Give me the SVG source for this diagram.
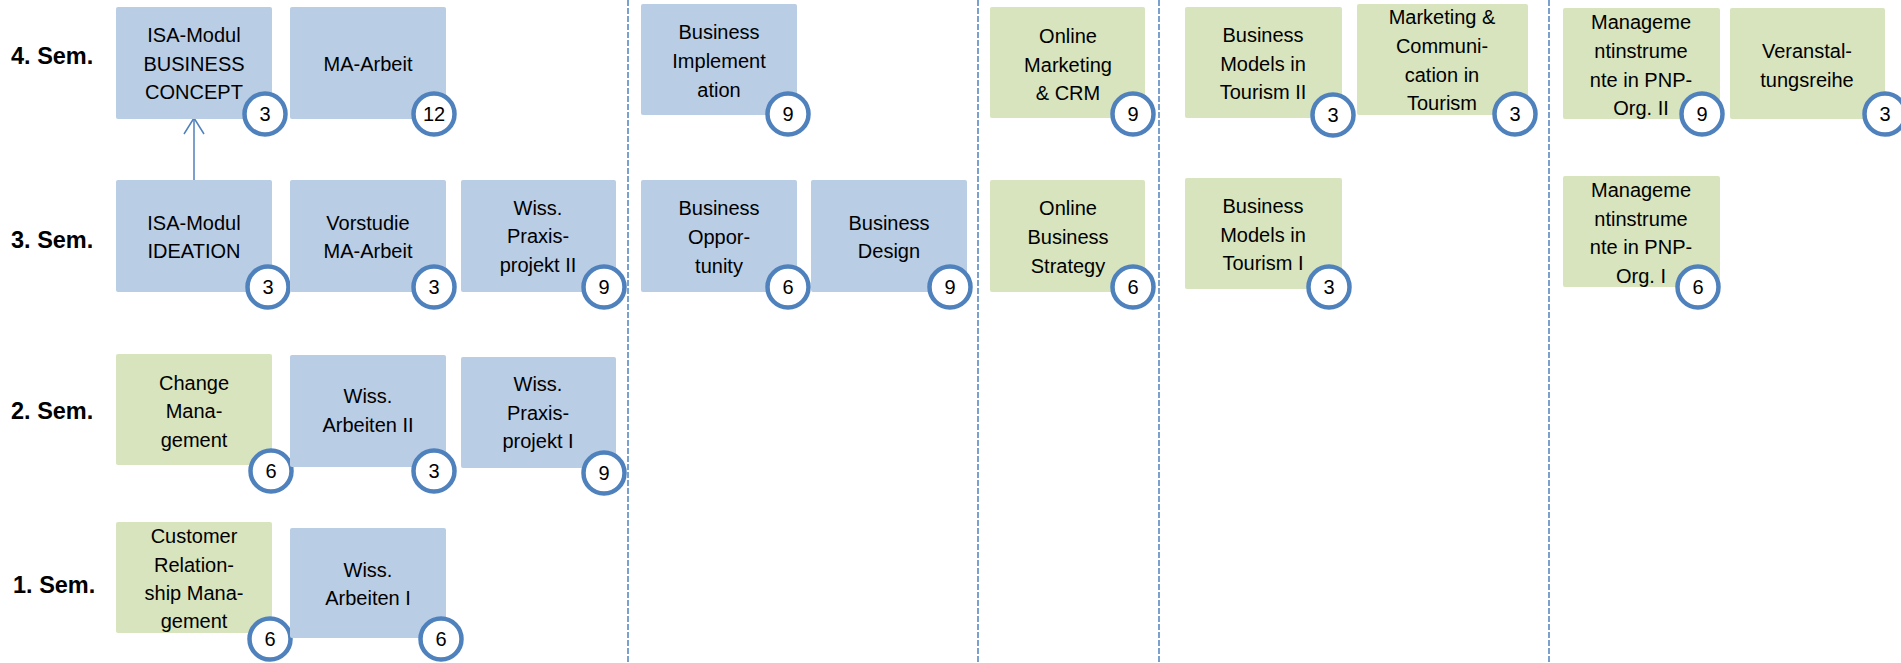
<svg xmlns="http://www.w3.org/2000/svg" width="1901" height="663" viewBox="0 0 1901 663">
<defs>
<style>
.bl{fill:#B9CDE5}
.gr{fill:#D7E4BD}
.t{font-family:"Liberation Sans",Arial,sans-serif;font-size:20px;fill:#000;text-anchor:middle}
.sem{font-family:"Liberation Sans",Arial,sans-serif;font-size:23.5px;font-weight:bold;fill:#000}
.c{fill:#fff;stroke:#4F81BD;stroke-width:4.5}
.n{font-family:"Liberation Sans",Arial,sans-serif;font-size:20px;fill:#000;text-anchor:middle}
.dash{stroke:#4F81BD;stroke-width:1.5;stroke-dasharray:6 2;fill:none}
.arr{stroke:#4F81BD;stroke-width:1.5;fill:none}
</style>
</defs>
<rect width="1901" height="663" fill="#fff"/>
<g id="connectors">
<line class="dash" x1="628" y1="0" x2="628" y2="663"/>
<line class="dash" x1="978" y1="0" x2="978" y2="663"/>
<line class="dash" x1="1159" y1="0" x2="1159" y2="663"/>
<line class="dash" x1="1549" y1="0" x2="1549" y2="663"/>
<line class="arr" x1="194" y1="180" x2="194" y2="119"/>
<polyline class="arr" points="184,134 194,118 204,134"/>
</g>
<g id="labels">
<text class="sem" x="11" y="64">4. Sem.</text>
<text class="sem" x="11" y="248">3. Sem.</text>
<text class="sem" x="11" y="419">2. Sem.</text>
<text class="sem" x="13" y="593">1. Sem.</text>
</g>
<g id="n_isa_bc">
<rect class="bl" x="116" y="7" width="156" height="112" rx="2"/>
<text class="t" x="194" y="42">ISA-Modul</text><text class="t" x="194" y="71">BUSINESS</text><text class="t" x="194" y="99">CONCEPT</text>
<circle class="c" cx="265" cy="114" r="20.5"/><text class="n" x="265" y="121">3</text>
</g>
<g id="n_ma">
<rect class="bl" x="290" y="7" width="156" height="112" rx="2"/>
<text class="t" x="368" y="71">MA-Arbeit</text>
<circle class="c" cx="434" cy="114" r="20.5"/><text class="n" x="434" y="121">12</text>
</g>
<g id="n_bi">
<rect class="bl" x="641" y="4" width="156" height="111" rx="2"/>
<text class="t" x="719" y="39">Business</text><text class="t" x="719" y="68">Implement</text><text class="t" x="719" y="97">ation</text>
<circle class="c" cx="788" cy="114" r="20.5"/><text class="n" x="788" y="121">9</text>
</g>
<g id="n_omcrm">
<rect class="gr" x="990" y="7" width="155" height="111" rx="2"/>
<text class="t" x="1068" y="43">Online</text><text class="t" x="1068" y="72">Marketing</text><text class="t" x="1068" y="100">&amp; CRM</text>
<circle class="c" cx="1133" cy="114" r="20.5"/><text class="n" x="1133" y="121">9</text>
</g>
<g id="n_bmt2">
<rect class="gr" x="1185" y="7" width="157" height="111" rx="2"/>
<text class="t" x="1263" y="42">Business</text><text class="t" x="1263" y="71">Models in</text><text class="t" x="1263" y="99">Tourism II</text>
<circle class="c" cx="1333" cy="115" r="20.5"/><text class="n" x="1333" y="122">3</text>
</g>
<g id="n_mct">
<rect class="gr" x="1357" y="4" width="171" height="111" rx="2"/>
<text class="t" x="1442" y="24">Marketing &amp;</text><text class="t" x="1442" y="53">Communi-</text><text class="t" x="1442" y="82">cation in</text><text class="t" x="1442" y="110">Tourism</text>
<circle class="c" cx="1515" cy="114" r="20.5"/><text class="n" x="1515" y="121">3</text>
</g>
<g id="n_mi2">
<rect class="gr" x="1563" y="8" width="157" height="111" rx="2"/>
<text class="t" x="1641" y="29">Manageme</text><text class="t" x="1641" y="58">ntinstrume</text><text class="t" x="1641" y="87">nte in PNP-</text><text class="t" x="1641" y="115">Org. II</text>
<circle class="c" cx="1702" cy="114" r="20.5"/><text class="n" x="1702" y="121">9</text>
</g>
<g id="n_vr">
<rect class="gr" x="1730" y="8" width="155" height="111" rx="2"/>
<text class="t" x="1807" y="58">Veranstal-</text><text class="t" x="1807" y="87">tungsreihe</text>
<circle class="c" cx="1885" cy="114" r="20.5"/><text class="n" x="1885" y="121">3</text>
</g>
<g id="n_isa_id">
<rect class="bl" x="116" y="180" width="156" height="112" rx="2"/>
<text class="t" x="194" y="230">ISA-Modul</text><text class="t" x="194" y="258">IDEATION</text>
<circle class="c" cx="268" cy="287" r="20.5"/><text class="n" x="268" y="294">3</text>
</g>
<g id="n_vs">
<rect class="bl" x="290" y="180" width="156" height="112" rx="2"/>
<text class="t" x="368" y="230">Vorstudie</text><text class="t" x="368" y="258">MA-Arbeit</text>
<circle class="c" cx="434" cy="287" r="20.5"/><text class="n" x="434" y="294">3</text>
</g>
<g id="n_wpp2">
<rect class="bl" x="461" y="180" width="155" height="112" rx="2"/>
<text class="t" x="538" y="215">Wiss.</text><text class="t" x="538" y="243">Praxis-</text><text class="t" x="538" y="272">projekt II</text>
<circle class="c" cx="604" cy="287" r="20.5"/><text class="n" x="604" y="294">9</text>
</g>
<g id="n_bo">
<rect class="bl" x="641" y="180" width="156" height="112" rx="2"/>
<text class="t" x="719" y="215">Business</text><text class="t" x="719" y="244">Oppor-</text><text class="t" x="719" y="273">tunity</text>
<circle class="c" cx="788" cy="287" r="20.5"/><text class="n" x="788" y="294">6</text>
</g>
<g id="n_bd">
<rect class="bl" x="811" y="180" width="156" height="112" rx="2"/>
<text class="t" x="889" y="230">Business</text><text class="t" x="889" y="258">Design</text>
<circle class="c" cx="950" cy="287" r="20.5"/><text class="n" x="950" y="294">9</text>
</g>
<g id="n_obs">
<rect class="gr" x="990" y="180" width="155" height="112" rx="2"/>
<text class="t" x="1068" y="215">Online</text><text class="t" x="1068" y="244">Business</text><text class="t" x="1068" y="273">Strategy</text>
<circle class="c" cx="1133" cy="287" r="20.5"/><text class="n" x="1133" y="294">6</text>
</g>
<g id="n_bmt1">
<rect class="gr" x="1185" y="178" width="157" height="111" rx="2"/>
<text class="t" x="1263" y="213">Business</text><text class="t" x="1263" y="242">Models in</text><text class="t" x="1263" y="270">Tourism I</text>
<circle class="c" cx="1329" cy="287" r="20.5"/><text class="n" x="1329" y="294">3</text>
</g>
<g id="n_mi1">
<rect class="gr" x="1563" y="176" width="157" height="111" rx="2"/>
<text class="t" x="1641" y="197">Manageme</text><text class="t" x="1641" y="226">ntinstrume</text><text class="t" x="1641" y="254">nte in PNP-</text><text class="t" x="1641" y="283">Org. I</text>
<circle class="c" cx="1698" cy="287" r="20.5"/><text class="n" x="1698" y="294">6</text>
</g>
<g id="n_cm">
<rect class="gr" x="116" y="354" width="156" height="111" rx="2"/>
<text class="t" x="194" y="390">Change</text><text class="t" x="194" y="418">Mana-</text><text class="t" x="194" y="447">gement</text>
<circle class="c" cx="271" cy="471" r="20.5"/><text class="n" x="271" y="478">6</text>
</g>
<g id="n_wa2">
<rect class="bl" x="290" y="355" width="156" height="112" rx="2"/>
<text class="t" x="368" y="403">Wiss.</text><text class="t" x="368" y="432">Arbeiten II</text>
<circle class="c" cx="434" cy="471" r="20.5"/><text class="n" x="434" y="478">3</text>
</g>
<g id="n_wpp1">
<rect class="bl" x="461" y="357" width="155" height="111" rx="2"/>
<text class="t" x="538" y="391">Wiss.</text><text class="t" x="538" y="420">Praxis-</text><text class="t" x="538" y="448">projekt I</text>
<circle class="c" cx="604" cy="473" r="20.5"/><text class="n" x="604" y="480">9</text>
</g>
<g id="n_crm">
<rect class="gr" x="116" y="522" width="156" height="111" rx="2"/>
<text class="t" x="194" y="543">Customer</text><text class="t" x="194" y="572">Relation-</text><text class="t" x="194" y="600">ship Mana-</text><text class="t" x="194" y="628">gement</text>
<circle class="c" cx="270" cy="639" r="20.5"/><text class="n" x="270" y="646">6</text>
</g>
<g id="n_wa1">
<rect class="bl" x="290" y="528" width="156" height="110" rx="2"/>
<text class="t" x="368" y="577">Wiss.</text><text class="t" x="368" y="605">Arbeiten I</text>
<circle class="c" cx="441" cy="639" r="20.5"/><text class="n" x="441" y="646">6</text>
</g>
</svg>
